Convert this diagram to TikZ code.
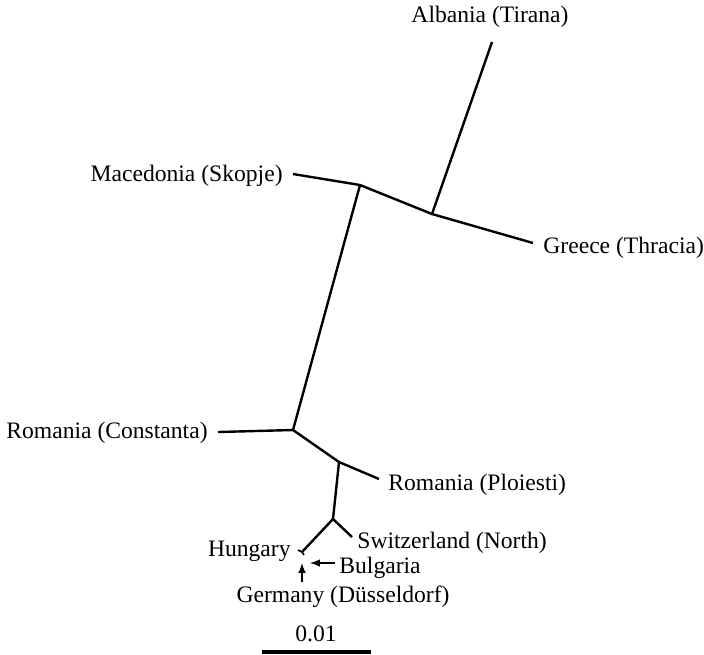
\documentclass[tikz,border=0pt]{standalone}
\usepackage{fontspec}
\setmainfont{Liberation Serif}
\usetikzlibrary{arrows}
\tikzset{every node/.style={inner sep=0pt, font=\fontsize{11.8}{13}\selectfont}}
\tikzstyle{branch} = [draw, line width=1.2pt]
\tikzstyle{pointer} = [draw, -latex, line width=0.7pt]

\begin{document}
\begin{tikzpicture}[x=0.5pt, y=-0.5pt]
    \useasboundingbox (0,0) rectangle (704,654);
    % inner nodes of the tree
    \coordinate (ag) at (432,214);
    \coordinate (mac) at (360,185);
    \coordinate (con) at (293,430);
    \coordinate (plo) at (339,462);
    \coordinate (swi) at (333,519);
    \coordinate (hbg) at (302,552);
    % leaves
    \coordinate (alb) at (492,42);
    \coordinate (gre) at (533,243);
    \coordinate (mace) at (293,174);
    \coordinate (cons) at (218,432);
    \coordinate (ploi) at (379,479);
    \coordinate (swit) at (352,537);
    \coordinate (hun) at (298,550);
    \coordinate (bul) at (304,555);
    \coordinate (bulp) at (310,563);
    \coordinate (gerp) at (302,563);
    \coordinate (gert) at (302,582);
    \node (albl) at (490,17) {Albania (Tirana)};
    \node [anchor=east] (macl) at (283,176) {Macedonia (Skopje)};
    \node [anchor=west] (grel) at (543,248) {Greece (Thracia)};
    \node [anchor=east] (conl) at (208,433) {Romania (Constanta)};
    \node [anchor=west] (plol) at (388,485) {Romania (Ploiesti)};
    \node [anchor=west] (swil) at (357,543) {Switzerland (North)};
    \node [anchor=east] (hunl) at (291,551) {Hungary};
    \node [anchor=west] (bull) at (339,568) {Bulgaria};
    \node (gerl) at (343,597) {Germany (D\"usseldorf)};
    \node (scl) at (316,634) {0.01};
    \coordinate (sca) at (262,652);
    \coordinate (scb) at (371,652);
    \path [branch] (alb) -- (ag) -- (gre);
    \path [branch] (ag) -- (mac) -- (mace);
    \path [branch] (mac) -- (con) -- (cons);
    \path [branch] (con) -- (plo) -- (ploi);
    \path [branch] (plo) -- (swi) -- (swit);
    \path [branch] (swi) -- (hbg);
    \path [branch, line width=0.8pt] (hun) -- (hbg) -- (bul);
    \path [branch, line width=1.6pt] (sca) -- (scb);
    \path [pointer] (bull.west |- bulp) ++(-4,0) -- (bulp);
    \path [pointer] (gert) -- (gerp);
\end{tikzpicture}
\end{document}
